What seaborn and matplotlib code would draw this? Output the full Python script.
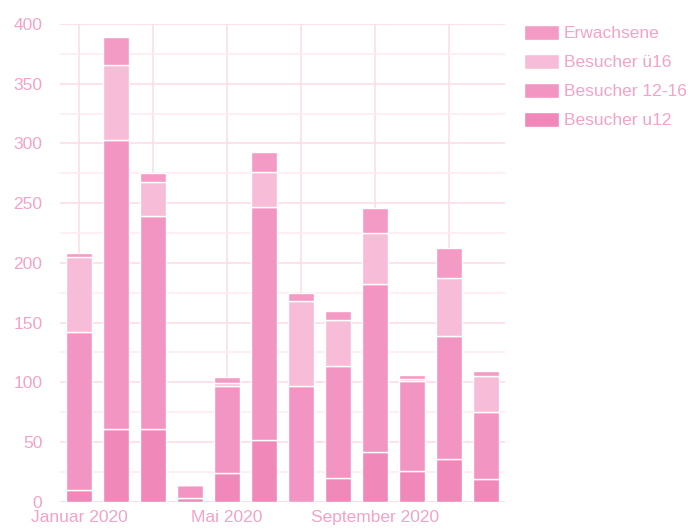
import numpy as np
import pandas as pd
import matplotlib
matplotlib.use("Agg")
import matplotlib.pyplot as plt
import seaborn as sns

months = ['Januar 2020', 'Februar 2020', 'März 2020', 'April 2020', 'Mai 2020', 'Juni 2020',
          'Juli 2020', 'August 2020', 'September 2020', 'Oktober 2020', 'November 2020', 'Dezember 2020']

# stacked from bottom to top
u12 = [10, 61, 61, 3, 24, 52, 0, 20, 42, 26, 36, 19]
b12_16 = [132, 242, 178, 11, 73, 195, 97, 94, 140, 75, 103, 56]
ue16 = [63, 63, 29, 0, 2, 29, 71, 38, 43, 2, 48, 30]
erwachsene = [3, 23, 7, 0, 5, 17, 7, 8, 21, 3, 25, 4]

series = [
    ('Besucher u12', u12, '#f088b9'),
    ('Besucher 12-16', b12_16, '#f395c2'),
    ('Besucher ü16', ue16, '#f7bcd8'),
    ('Erwachsene', erwachsene, '#f39bc5'),
]

sns.set_style('white')
plt.rcParams['font.family'] = ['Liberation Sans', 'DejaVu Sans']

pink_text = '#f3a2c8'
grid_major = '#fbdde9'
grid_minor = '#fdecf3'

fig = plt.figure(figsize=(6.95, 5.32), dpi=100)
ax = fig.add_axes([0.087, 0.057, 0.639, 0.898])

bottom = np.zeros(len(months))
for name, vals, col in series:
    df = pd.DataFrame({'month': months, 'value': vals})
    sns.barplot(data=df, x='month', y='value', order=months, color=col, saturation=1,
                width=0.7, bottom=bottom, edgecolor='white', linewidth=1, label=name, ax=ax)
    bottom = bottom + np.array(vals)

if ax.get_legend() is not None:
    ax.get_legend().remove()

ax.set_xlim(-0.5, 11.5)
ax.set_ylim(0, 400)
ax.set_xticks([0, 4, 8])
ax.set_xticklabels(['Januar 2020', 'Mai 2020', 'September 2020'])
ax.set_xticks(range(0, 12, 2), minor=True)
ax.set_yticks(range(0, 401, 50))
ax.set_yticks(range(0, 401, 25), minor=True)
ax.set_xlabel('')
ax.set_ylabel('')

ax.set_axisbelow(True)
ax.grid(True, which='both', axis='x', color=grid_major, linewidth=1.2)
ax.grid(True, which='major', axis='y', color=grid_major, linewidth=1.2)
ax.grid(True, which='minor', axis='y', color=grid_minor, linewidth=1.2)

for s in ax.spines.values():
    s.set_visible(False)
ax.axhline(0, color='#f9cde0', linewidth=1.2, zorder=0.5)

ax.tick_params(axis='both', which='both', length=0, labelsize=12.5, labelcolor=pink_text)
ax.tick_params(axis='y', pad=13)
ax.tick_params(axis='x', pad=6)

handles, labels = ax.get_legend_handles_labels()
leg = fig.legend(handles[::-1], labels[::-1], loc='upper left', bbox_to_anchor=(0.744, 0.966),
                 frameon=False, fontsize=12.5, handlelength=2.0, handleheight=0.95,
                 labelspacing=0.72, handletextpad=0.3, borderaxespad=0)
for t in leg.get_texts():
    t.set_color(pink_text)

plt.savefig('out.png', dpi=100)
